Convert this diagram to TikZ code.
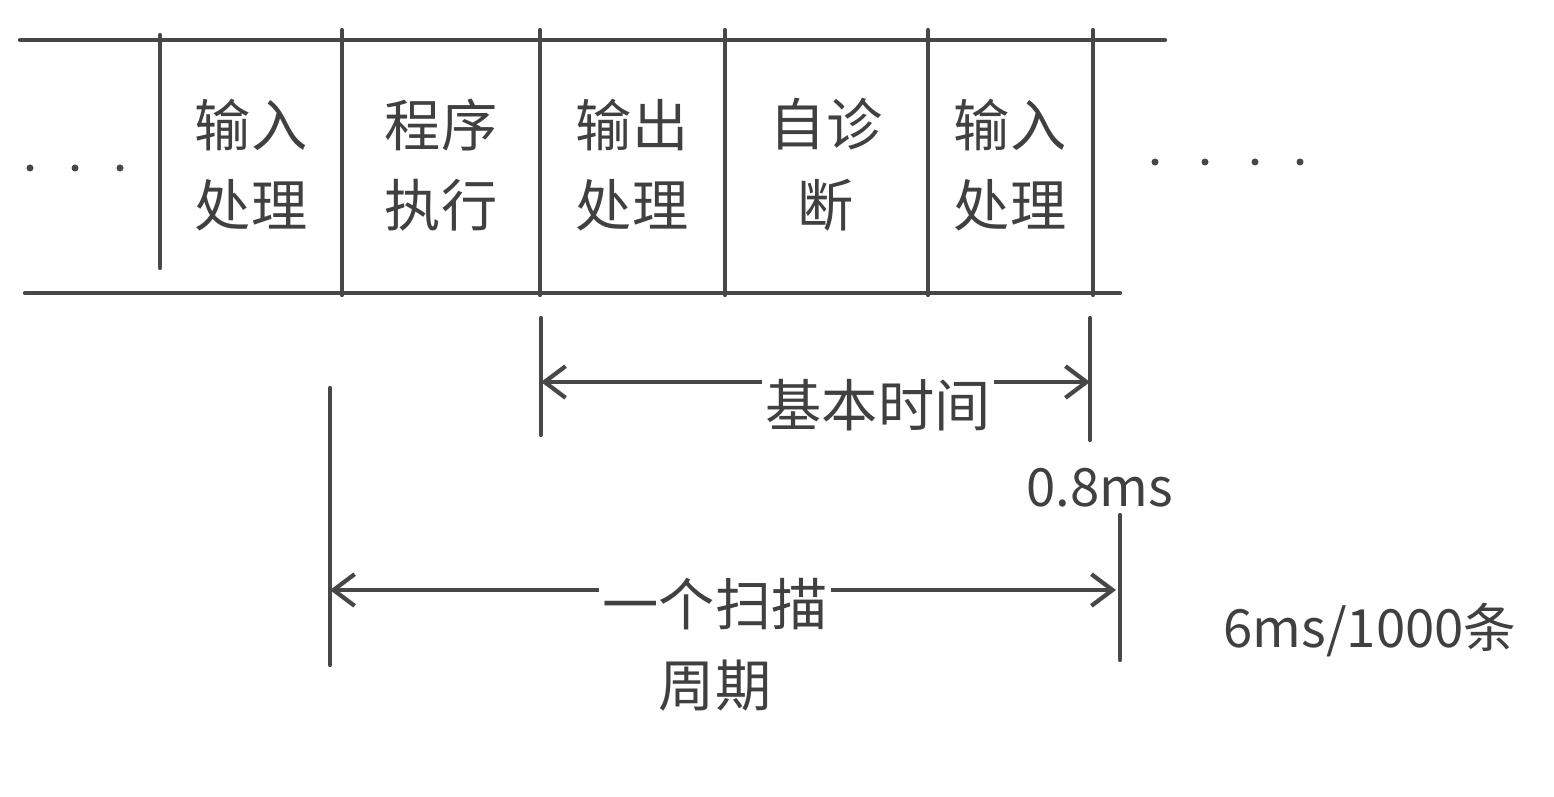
\documentclass[tikz,border=0pt]{standalone}
\usepackage{fontspec}
\setmainfont{Noto Sans CJK SC}
\usetikzlibrary{arrows.meta}
\tikzstyle{stroke}=[line width=2.4pt, draw=black!72, line cap=round]
\tikzstyle{cell}=[align=center, inner sep=2pt, text=black!75, font=\fontsize{32}{46}\selectfont]
\tikzstyle{dimline}=[stroke, {Straight Barb[length=12pt, width=18pt]}-{Straight Barb[length=12pt, width=18pt]}]
\tikzstyle{dimlabel}=[cell, fill=white]
\tikzstyle{note}=[text=black!75, font=\fontsize{30}{36}\selectfont]

\begin{document}
\begin{tikzpicture}[x=0.02cm, y=-0.02cm]
        \useasboundingbox (0, 0) rectangle (1554, 797);
        % time line
        \draw[stroke] (20, 40) -- (1165, 40);
        \draw[stroke] (25, 293) -- (1120, 293);
        \draw[stroke] (160, 35) -- (160, 268);
        \foreach \x in {342, 540, 725, 928, 1093}
            \draw[stroke] (\x, 30) -- (\x, 295);
        \foreach \x in {30, 75, 120}
            \fill[black!72] (\x, 168) circle (3.5);
        \foreach \x in {1155, 1205, 1255, 1300}
            \fill[black!72] (\x, 162) circle (3.5);
        \node[cell] (in1) at (251, 165) {输入\\处理};
        \node[cell] (prog) at (441, 165) {程序\\执行};
        \node[cell] (out) at (632, 165) {输出\\处理};
        \node[cell] (diag) at (826, 165) {自诊\\断};
        \node[cell] (in2) at (1010, 165) {输入\\处理};
        % basic time
        \draw[stroke] (541, 318) -- (541, 435);
        \draw[stroke] (1090, 318) -- (1090, 440);
        \coordinate (b1) at (541, 382);
        \coordinate (b2) at (1090, 382);
        \draw[dimline] (b1) -- (b2);
        \node[dimlabel] (basic) at (878, 405) {基本时间};
        \node[note] (t08) at (1100, 488) {0.8ms};
        % scan cycle
        \draw[stroke] (330, 388) -- (330, 665);
        \draw[stroke] (1120, 515) -- (1120, 660);
        \coordinate (s1) at (330, 590);
        \coordinate (s2) at (1116, 590);
        \draw[dimline] (s1) -- (s2);
        \node[dimlabel] (scan) at (715, 645) {一个扫描\\周期};
        \node[note] (rate) at (1370, 630) {6ms/1000条};
\end{tikzpicture}
\end{document}
